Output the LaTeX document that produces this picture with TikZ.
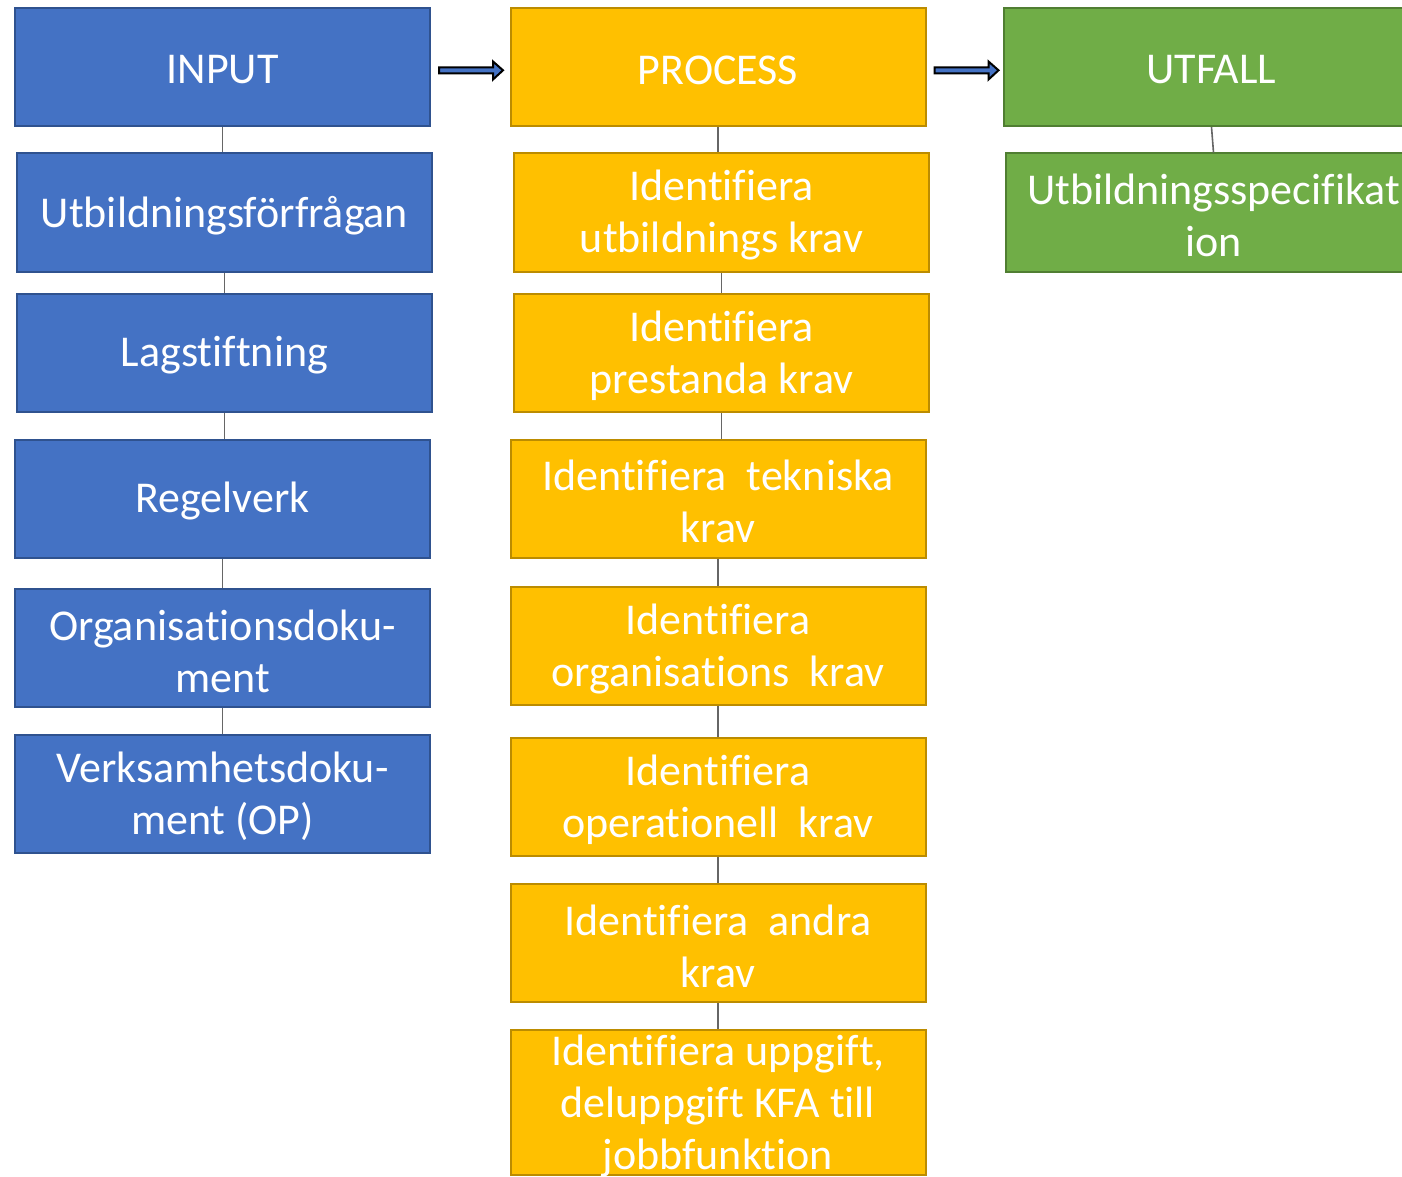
\documentclass[tikz,border=0pt]{standalone}
\usepackage{fontspec}
\setmainfont[RawFeature={-liga;-clig;-dlig}]{Carlito}
\usetikzlibrary{calc}
\definecolor{bfill}{HTML}{4472C4}
\definecolor{bline}{HTML}{2F528F}
\definecolor{ofill}{HTML}{FFC000}
\definecolor{oline}{HTML}{BC8C00}
\definecolor{gfill}{HTML}{70AD47}
\definecolor{gline}{HTML}{507E32}
\definecolor{conn}{HTML}{666666}
\tikzset{
  box/.style={draw, line width=2pt, minimum width=415pt, minimum height=118pt, inner sep=0pt},
  bbox/.style={box, fill=bfill, draw=bline},
  obox/.style={box, fill=ofill, draw=oline},
  gbox/.style={box, fill=gfill, draw=gline},
  txt/.style={inner sep=0pt, align=center, text=white, font=\fontsize{44pt}{52pt}\selectfont},
  conline/.style={draw=conn, line width=1.6pt},
  barrow/.style={fill=bfill, draw=black, line width=2pt, line join=miter},
}
\newcommand\bx[5][118pt]{%
  \node[#2, minimum height=#1] (#3) at #4 {};
  \node[txt] (#3t) at ($(#3.center)+(0,3)$) {#5};}
\newcommand\blockarr[1]{%
  \path[barrow] ($(#1.east)+(8,0.5)$) -- ($(#1.east)+(62,0.5)$) -- ($(#1.east)+(62,-5.5)$)
   -- ($(#1.east)+(72,3.3)$) -- ($(#1.east)+(62,12.5)$) -- ($(#1.east)+(62,6.5)$)
   -- ($(#1.east)+(8,6.5)$) -- cycle;}
\newcommand\vconn[2]{\draw[conline] (#1.south) -- (#1.south |- #2.north);}
\begin{document}
\begin{tikzpicture}[x=1pt, y=-1pt]
\useasboundingbox (0,0) rectangle (1402,1177);
\clip (0,0) rectangle (1402,1177);
% input column
\bx{bbox}{input}{(222.5,67)}{INPUT}
\bx{bbox}{i1}{(224.5,212.5)}{Utbildningsförfrågan}
\bx{bbox}{i2}{(224.5,352.5)}{Lagstiftning}
\bx{bbox}{i3}{(222.5,498.5)}{Regelverk}
\bx{bbox}{i4}{(222.5,648)}{Organisationsdoku-\\ment}
\bx{bbox}{i5}{(222.5,793.5)}{Verksamhetsdoku-\\ment (OP)}
% process column
\bx{obox}{process}{(718,67)}{PROCESS}
\bx{obox}{p1}{(721.5,212.5)}{Identifiera\\utbildnings krav}
\bx{obox}{p2}{(721.5,352.5)}{Identifiera\\prestanda krav}
\bx{obox}{p3}{(718,498.5)}{Identifiera~ tekniska\\krav}
\bx{obox}{p4}{(718,646)}{Identifiera\\organisations~ krav}
\bx{obox}{p5}{(718,797)}{Identifiera\\operationell~ krav}
\bx{obox}{p6}{(718,943)}{Identifiera~ andra\\krav}
\bx[145pt]{obox}{p7}{(718,1102.5)}{Identifiera uppgift,\\deluppgift KFA till\\jobbfunktion}
% outcome column
\bx{gbox}{utfall}{(1211.5,67)}{UTFALL}
\bx{gbox}{o1}{(1213.5,212.5)}{Utbildningsspecifikat\\ion}
% connectors
\vconn{input}{i1}
\vconn{i1}{i2}
\vconn{i2}{i3}
\vconn{i3}{i4}
\vconn{i4}{i5}
\vconn{process}{p1}
\vconn{p1}{p2}
\vconn{p2}{p3}
\vconn{p3}{p4}
\vconn{p4}{p5}
\vconn{p5}{p6}
\vconn{p6}{p7}
\draw[conline] (utfall.south) -- (o1.north);
% arrows
\blockarr{input}
\blockarr{process}
\end{tikzpicture}
\end{document}
